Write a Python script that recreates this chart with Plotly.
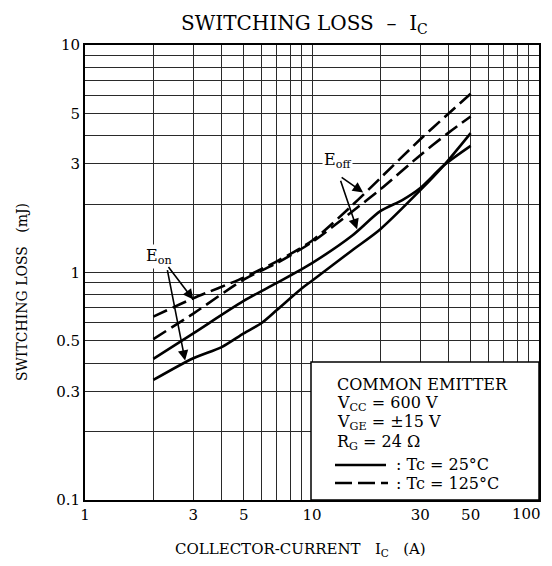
import numpy as np
import plotly.graph_objects as go

# ---------------- data ----------------
ic_on25 = [2, 3, 4, 5, 6, 7, 9, 10, 15, 20, 30, 38, 50]
eon_25 = [0.337, 0.42, 0.47, 0.54, 0.60, 0.684, 0.85, 0.92, 1.25, 1.55, 2.3, 2.95, 4.1]

ic_off25 = [2, 3, 5, 7, 10, 15, 20, 25, 30, 38, 50]
eoff_25 = [0.417, 0.54, 0.75, 0.90, 1.10, 1.45, 1.86, 2.08, 2.35, 2.95, 3.6]

ic_125 = [2, 3, 5, 7, 10, 15, 20, 30, 40, 50]
eon_125 = [0.64, 0.77, 0.95, 1.12, 1.38, 1.97, 2.6, 3.85, 5.0, 6.1]
eoff_125 = [0.51, 0.66, 0.93, 1.10, 1.36, 1.85, 2.32, 3.28, 4.12, 4.85]

x_major = [1, 3, 5, 10, 30, 50, 100]
x_minor = [2, 4, 6, 7, 8, 9, 20, 40, 60, 70, 80, 90]
y_major = [0.1, 0.3, 0.5, 1, 3, 5, 10]
y_minor = [0.2, 0.4, 0.6, 0.7, 0.8, 0.9, 2, 4, 6, 7, 8, 9]

FONT = "DejaVu Serif"
# the page has an 8px body margin; plot area sits at page x 85..539, y 45..500
W, H = 544, 550
L, R, T = 77, 13, 37
B = H - T - 455
PX0, PX1, PY0, PY1 = 85, 539, 45, 500


def px(xp):
    return (xp - PX0) / (PX1 - PX0)


def py(yp):
    return (PY1 - yp) / (PY1 - PY0)


fig = go.Figure()
line_w = 2.6
dash = "15px,6px"
for xs, ys, d in [(ic_on25, eon_25, "solid"), (ic_off25, eoff_25, "solid"),
                  (ic_125, eon_125, dash), (ic_125, eoff_125, dash)]:
    fig.add_trace(go.Scatter(x=xs, y=ys, mode="lines", line_shape="spline",
                             line=dict(color="black", width=line_w, dash=d, smoothing=0.8),
                             showlegend=False, hoverinfo="skip"))

GRID = "#2a2a2a"
TICKFONT = dict(family=FONT, size=15, color="black")
axis_common = dict(type="log", showgrid=True, gridcolor=GRID, gridwidth=1,
                   showline=True, linecolor="black", linewidth=2, mirror=True,
                   ticks="", zeroline=False, automargin=False,
                   tickfont=TICKFONT)
# the last x label (at the right border) is drawn as an annotation so it is not clipped
x_axis_ticks = x_major[:-1]
fig.update_xaxes(range=[0, 2], tickmode="array", tickvals=x_axis_ticks,
                 ticktext=[str(v) for v in x_axis_ticks],
                 minor=dict(tickmode="array", tickvals=x_minor + x_major[-1:],
                            showgrid=True, gridcolor=GRID, gridwidth=1, ticks=""),
                 **axis_common)
fig.update_yaxes(range=[-1, 1], tickmode="array", tickvals=y_major,
                 ticktext=[str(v) for v in y_major],
                 minor=dict(tickmode="array", tickvals=y_minor, showgrid=True,
                            gridcolor=GRID, gridwidth=1, ticks=""),
                 **axis_common)

shapes = []
# condition box (white, covers the grid)
shapes.append(dict(type="rect", xref="paper", yref="paper", x0=px(311), x1=1.0,
                   y0=0.0, y1=py(362), fillcolor="white",
                   line=dict(color="black", width=1.5), layer="above"))
# legend samples
shapes.append(dict(type="line", xref="paper", yref="paper", x0=px(335), x1=px(386),
                   y0=py(465), y1=py(465), line=dict(color="black", width=2.6)))
shapes.append(dict(type="line", xref="paper", yref="paper", x0=px(335), x1=px(388),
                   y0=py(483), y1=py(483),
                   line=dict(color="black", width=2.6, dash="17px,6px")))
fig.update_layout(shapes=shapes)

ann = []
tf = dict(family=FONT, size=16, color="black")
# last x tick label
ann.append(dict(text=str(x_major[-1]), xref="paper", yref="paper", x=px(543), y=py(514),
                xanchor="right", yanchor="middle", showarrow=False, font=TICKFONT))
# condition texts
cond = [("COMMON EMITTER", 335, 384), ("V<sub>CC</sub> = 600 V", 335, 403),
        ("V<sub>GE</sub> = ±15 V", 335, 422), ("R<sub>G</sub> = 24 Ω", 335, 442),
        (": Tc = 25°C", 394, 464), (": Tc = 125°C", 394, 483)]
for t, xp, yp in cond:
    ann.append(dict(text=t, xref="paper", yref="paper", x=px(xp), y=py(yp),
                    xanchor="left", yanchor="middle", showarrow=False, font=tf))

# curve labels
ann.append(dict(text="E<sub>on</sub>", x=np.log10(2.12), y=np.log10(1.17),
                xref="x", yref="y", showarrow=False, font=tf, bgcolor="white",
                xanchor="center", yanchor="middle"))
ann.append(dict(text="E<sub>off</sub>", x=np.log10(13.0), y=np.log10(3.1),
                xref="x", yref="y", showarrow=False, font=tf, bgcolor="white",
                xanchor="center", yanchor="middle"))
# arrows (tip on curve, tail at label)
arrows = [(3.0, 0.76, -26, -34), (2.76, 0.41, -18, -92),
          (16.8, 2.25, -23, -16), (15.8, 1.55, -17, -50)]
for xv, yv, ax, ay in arrows:
    ann.append(dict(x=np.log10(xv), y=np.log10(yv), xref="x", yref="y", text="",
                    showarrow=True, arrowhead=2, arrowsize=1.3, arrowwidth=1.6,
                    arrowcolor="black", ax=ax, ay=ay, standoff=0))

# titles
ann.append(dict(text="SWITCHING LOSS  –  I<sub>C</sub>", xref="paper", yref="paper",
                x=px(304), y=py(24), xanchor="center", yanchor="middle", showarrow=False,
                font=dict(family=FONT, size=20, color="black")))
ann.append(dict(text="COLLECTOR-CURRENT   I<sub>C</sub>   (A)", xref="paper", yref="paper",
                x=px(300), y=py(549), xanchor="center", yanchor="middle", showarrow=False,
                font=dict(family=FONT, size=15, color="black")))
ann.append(dict(text="SWITCHING LOSS   (mJ)", xref="paper", yref="paper",
                x=px(22), y=py(292), xanchor="center", yanchor="middle", showarrow=False,
                textangle=-90, font=dict(family=FONT, size=14, color="black")))
fig.update_layout(annotations=ann)

fig.update_layout(width=W, height=H, margin=dict(l=L, r=R, t=T, b=B, autoexpand=False),
                  plot_bgcolor="white", paper_bgcolor="white",
                  font=dict(family=FONT, color="black"))

fig.write_html("out.html")
